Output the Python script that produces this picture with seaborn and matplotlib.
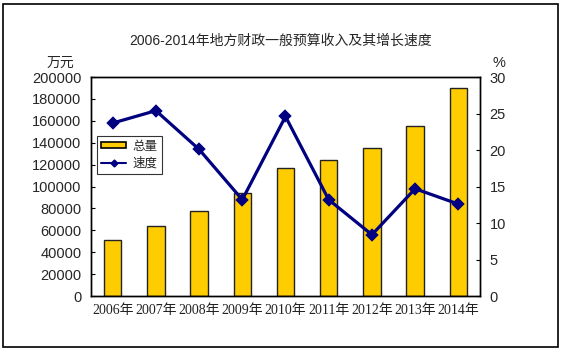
import numpy as np
import pandas as pd
import matplotlib
matplotlib.use("Agg")
import matplotlib.pyplot as plt
from matplotlib.patches import Rectangle, Patch
from matplotlib.lines import Line2D
import seaborn as sns

years = ["2006年", "2007年", "2008年", "2009年", "2010年",
         "2011年", "2012年", "2013年", "2014年"]
total = [51000, 64200, 77300, 93800, 117200, 124500, 135100, 155500, 189900]
speed = [23.7, 25.4, 20.1, 13.2, 24.6, 13.2, 8.4, 14.7, 12.6]

sns.set_style("white")
plt.rcParams['font.family'] = ['Liberation Sans', 'Noto Sans CJK SC']

df = pd.DataFrame({'year': years, 'total': total, 'speed': speed})

fig = plt.figure(figsize=(5.62, 3.52), dpi=100)
ax = fig.add_axes([0.162, 0.159, 0.692, 0.622])

sns.barplot(data=df, x='year', y='total', ax=ax, color='#FFCC00',
            width=0.4, edgecolor='#222222', linewidth=1.0, saturation=1)
ax.set_ylim(0, 200000)
ax.set_yticks(np.arange(0, 200001, 20000))
ax.set_xlim(-0.5, 8.5)
ax.set_xlabel('')
ax.set_ylabel('')
ax.tick_params(axis='y', labelsize=10.5, length=3, direction='in', color='black', pad=7)
ax.tick_params(axis='x', length=0, pad=6)
ax.set_xticks(np.arange(-0.5, 9, 1), minor=True)
ax.tick_params(axis='x', which='minor', length=3, direction='in', color='black')
for lab in ax.get_xticklabels():
    lab.set_fontfamily(['Liberation Serif', 'Noto Sans CJK SC'])
    lab.set_fontsize(10)
    lab.set_color('#222222')
for s in ax.spines.values():
    s.set_color('black')
    s.set_linewidth(1.0)

ax2 = ax.twinx()
sns.pointplot(data=df, x='year', y='speed', ax=ax2, color='#000080',
              markers='D', markersize=5, linewidth=2.3)
ax2.set_ylim(0, 30)
ax2.set_yticks(np.arange(0, 31, 5))
ax2.set_xlim(-0.5, 8.5)
ax2.set_ylabel('')
ax2.tick_params(axis='y', labelsize=10.5, length=3, direction='in', color='black', pad=7)
for s in ax2.spines.values():
    s.set_color('black')
    s.set_linewidth(1.0)

handles = [Patch(facecolor='#FFCC00', edgecolor='black', linewidth=1.2),
           Line2D([0], [0], color='#000080', marker='D', markersize=3.5, linewidth=1.5)]
leg = ax2.legend(handles, ['总量', '速度'], loc='upper left',
                 bbox_to_anchor=(0.015, 0.73), frameon=True, fancybox=False,
                 prop={'size': 9}, handlelength=2.0, handleheight=0.45,
                 borderpad=0.35, labelspacing=0.4, handletextpad=0.5,
                 borderaxespad=0)
leg.get_frame().set_edgecolor('black')
leg.get_frame().set_linewidth(0.8)

fig.text(0.5, 0.885, '2006-2014年地方财政一般预算收入及其增长速度',
         ha='center', va='center', fontsize=10)
fig.text(0.108, 0.822, '万元', ha='center', va='center', fontsize=10)
fig.text(0.887, 0.822, '%', ha='center', va='center', fontsize=10.5)

fig.patches.append(Rectangle((0.006, 0.014), 0.987, 0.974, transform=fig.transFigure,
                             fill=False, edgecolor='black', linewidth=1.2))

fig.savefig('out.png', dpi=100)
